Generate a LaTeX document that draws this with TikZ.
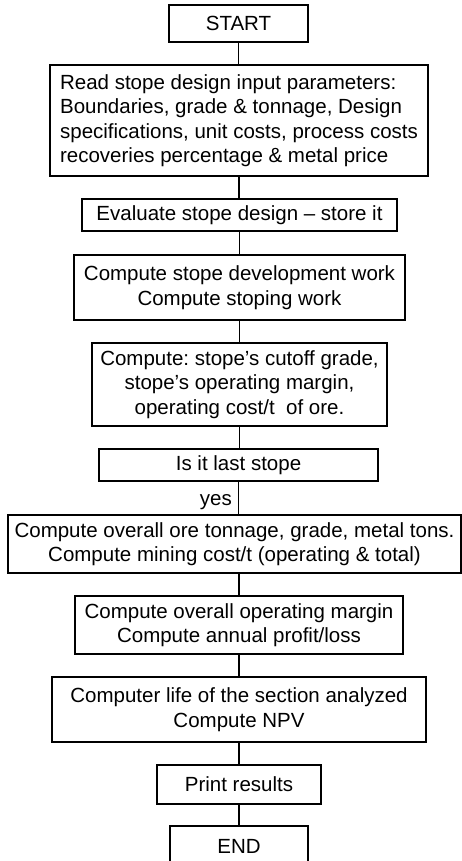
\documentclass[tikz,border=0pt]{standalone}
\usepackage{fontspec}
\setmainfont{Liberation Sans}
\frenchspacing
\begin{document}
\begin{tikzpicture}[x=1pt,y=-1pt,
  box/.style={draw=black, line width=1.5pt, inner sep=0pt, align=center,
    font=\fontsize{20.5}{24.4}\selectfont},
  link/.style={draw=black, line width=1.4pt}]
\useasboundingbox (0,0) rectangle (462,861);
\node[box, minimum width=139, minimum height=37] (start) at (238.5,23.5) {START};
\node[box, minimum width=378, minimum height=111, align=left] (read) at (239,120.5)
  {Read stope design input parameters:\\Boundaries, grade \& tonnage, Design\\specifications, unit costs, process costs\\recoveries percentage \& metal price};
\node[box, minimum width=315, minimum height=32] (eval) at (239.5,215) {Evaluate stope design -- store it};
\node[box, minimum width=331, minimum height=65] (dev) at (239.5,287.5) {Compute stope development work\\Compute stoping work};
\node[box, minimum width=295, minimum height=83] (cut) at (239.5,384.5) {Compute: stope’s cutoff grade,\\stope’s operating margin,\\operating cost/t\ \ of ore.};
\node[box, minimum width=279, minimum height=32] (last) at (238.5,465) {Is it last stope};
\node[box, minimum width=453, minimum height=58] (overall) at (234.5,544) {Compute overall ore tonnage, grade, metal tons.\\Compute mining cost/t (operating \& total)};
\node[box, minimum width=328, minimum height=58] (margin) at (239,625) {Compute overall operating margin\\Compute annual profit/loss};
\node[box, minimum width=374, minimum height=65] (life) at (239,709.5) {Computer life of the section analyzed\\Compute NPV};
\node[box, minimum width=164, minimum height=39] (print) at (239,784.5) {Print results};
\node[box, minimum width=138, minimum height=40] (end) at (239,846) {END};
\node[anchor=base east, inner sep=0pt, font=\fontsize{20.5}{24.4}\selectfont] (yes) at (232,505) {yes};
\draw[link] (start.south) -- (start.south |- read.north);
\draw[link] (read.south) -- (read.south |- eval.north);
\draw[link] (eval.south) -- (eval.south |- dev.north);
\draw[link] (dev.south) -- (dev.south |- cut.north);
\draw[link] (cut.south) -- (cut.south |- last.north);
\draw[link] (last.south) -- (last.south |- overall.north);
\draw[link] (margin.north |- overall.south) -- (margin.north);
\draw[link] (margin.south) -- (margin.south |- life.north);
\draw[link] (life.south) -- (life.south |- print.north);
\draw[link] (print.south) -- (print.south |- end.north);
\end{tikzpicture}
\end{document}
